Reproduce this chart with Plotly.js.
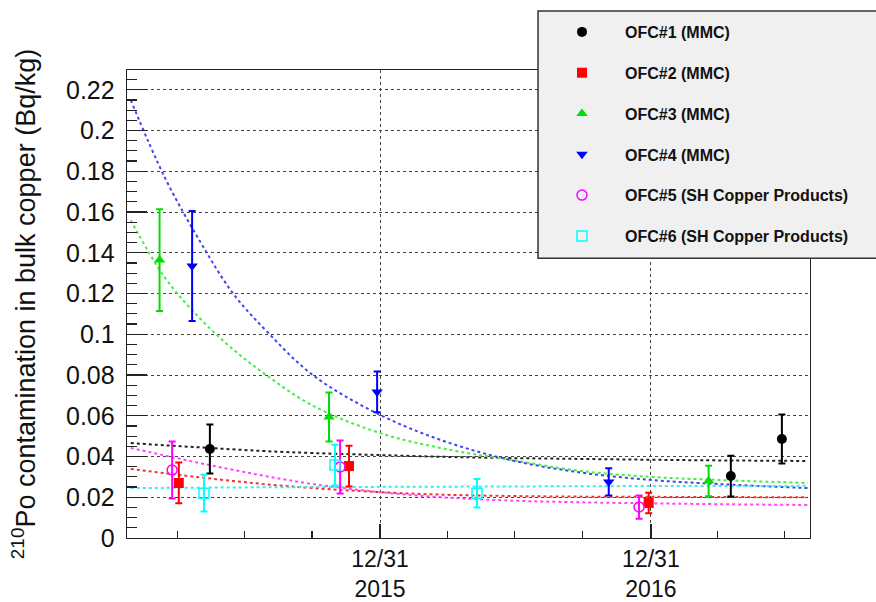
<!DOCTYPE html>
<html>
<head>
<meta charset="utf-8">
<script src="https://cdn.plot.ly/plotly-3.0.1.min.js"></script>
<style>
html,body{margin:0;padding:0;background:#fff;}
#chart{width:876px;height:602px;}
</style>
</head>
<body>
<div id="chart"></div>
<script>
// ---- data ----
const seriesNames = ['OFC#1 (MMC)','OFC#2 (MMC)','OFC#3 (MMC)','OFC#4 (MMC)','OFC#5 (SH Copper Products)','OFC#6 (SH Copper Products)'];

const ofc1Dates = ['2015-05-15','2017-04-18','2017-06-26'];
const ofc1Vals  = [0.0437, 0.0304, 0.0486];
const ofc1Errs  = [0.012, 0.010, 0.012];

const ofc2Dates = ['2015-04-03','2015-11-19','2016-12-28'];
const ofc2Vals  = [0.0270, 0.0353, 0.0172];
const ofc2Errs  = [0.010, 0.010, 0.005];

const ofc3Dates = ['2015-03-08','2015-10-23','2017-03-19'];
const ofc3Vals  = [0.1364, 0.0594, 0.0280];
const ofc3Errs  = [0.025, 0.012, 0.0075];

const ofc4Dates = ['2015-04-21','2015-12-27','2016-11-04'];
const ofc4Vals  = [0.1335, 0.0717, 0.0275];
const ofc4Errs  = [0.027, 0.010, 0.0067];

const ofc5Dates = ['2015-03-25','2015-11-07','2016-12-15'];
const ofc5Vals  = [0.0334, 0.0349, 0.0152];
const ofc5Errs  = [0.014, 0.013, 0.0057];

const ofc6Dates = ['2015-05-07','2015-10-31','2016-05-10'];
const ofc6Vals  = [0.0220, 0.0358, 0.0220];
const ofc6Errs  = [0.009, 0.010, 0.007];

// fit curves at these dates
const fitDates = ['2015-01-28','2015-03-15','2015-05-01','2015-06-15','2015-08-01','2015-10-01','2015-12-31','2016-03-31','2016-06-30','2016-09-30','2016-12-31','2017-03-31','2017-07-31'];
const fit1 = [0.0466,0.0455,0.0445,0.0435,0.0426,0.0417,0.0407,0.0398,0.0392,0.0388,0.0384,0.0381,0.0378];
const fit2 = [0.0339,0.0318,0.0298,0.0280,0.0263,0.0245,0.0225,0.0212,0.0206,0.0203,0.0202,0.0201,0.0200];
const fit3 = [0.1560,0.1279,0.1080,0.0927,0.0795,0.0650,0.0515,0.0435,0.0380,0.0328,0.0300,0.0285,0.0270];
const fit4 = [0.2150,0.1770,0.1460,0.1202,0.1010,0.0800,0.0604,0.0470,0.0378,0.0320,0.0285,0.0265,0.0245];
const fit5 = [0.0442,0.0405,0.0368,0.0335,0.0302,0.0265,0.0225,0.0198,0.0183,0.0175,0.0170,0.0166,0.0162];
const fit6 = [0.0245,0.0246,0.0247,0.0248,0.0249,0.0250,0.0251,0.0252,0.0253,0.0254,0.0255,0.0255,0.0256];

const majorTickVals = ['2015-12-31','2016-12-31'];
const majorTickText = ['12/31<br>2015','12/31<br>2016'];
const minorTickVals = ['2015-04-01','2015-07-01','2015-09-30','2016-03-31','2016-06-30','2016-09-30','2017-03-31','2017-06-30'];

// ---- styling ----
const colors = ['#000000','#ff0000','#00dd00','#0000ff','#ff00ff','#00ffff'];
const symbols = ['circle','square','triangle-up','triangle-down','circle-open','square-open'];
const dates = [ofc1Dates,ofc2Dates,ofc3Dates,ofc4Dates,ofc5Dates,ofc6Dates];
const vals = [ofc1Vals,ofc2Vals,ofc3Vals,ofc4Vals,ofc5Vals,ofc6Vals];
const errs = [ofc1Errs,ofc2Errs,ofc3Errs,ofc4Errs,ofc5Errs,ofc6Errs];
const fits = [fit1,fit2,fit3,fit4,fit5,fit6];
const fitColors = ['#222222','#ee3333','#44ee44','#4444ee','#ff44ff','#33eeee'];

const traces = [];
for (let i = 0; i < 6; i++) {
  traces.push({
    x: fitDates, y: fits[i], type: 'scatter', mode: 'lines',
    line: {color: fitColors[i], width: 2, dash: '3px,3px', shape: 'spline'},
    showlegend: false, hoverinfo: 'skip'
  });
}
for (let i = 0; i < 6; i++) {
  traces.push({
    x: dates[i], y: vals[i], type: 'scatter', mode: 'markers',
    name: seriesNames[i], legendgroup: 'g' + i,
    marker: {color: colors[i], symbol: symbols[i], size: 10,
             line: {color: colors[i], width: (i >= 4 ? 1.5 : 0)}},
    error_y: {type: 'data', array: errs[i], visible: true, color: colors[i], thickness: 2, width: 3.5}
  });
}

const layout = {
  width: 876, height: 602,
  margin: {l: 127, r: 66, t: 70, b: 64},
  paper_bgcolor: '#ffffff', plot_bgcolor: '#ffffff',
  font: {family: '"Liberation Sans", Arial, sans-serif', color: '#111'},
  showlegend: true,
  xaxis: {
    type: 'date',
    range: ['2015-01-23', '2017-08-03'],
    tickmode: 'array', tickvals: majorTickVals, ticktext: majorTickText,
    ticks: 'inside', ticklen: 14, tickwidth: 1.2, tickcolor: '#222',
    tickfont: {size: 23, color: '#111'},
    showgrid: true, gridcolor: '#444', griddash: 'dot', gridwidth: 1,
    showline: true, linecolor: '#222', linewidth: 1.3, mirror: true,
    zeroline: false,
    minor: {tickmode: 'array', tickvals: minorTickVals, ticks: 'inside', ticklen: 7, tickcolor: '#222', tickwidth: 1.2, showgrid: false}
  },
  yaxis: {
    range: [0, 0.2297],
    tick0: 0, dtick: 0.02,
    ticks: 'inside', ticklen: 20, tickwidth: 1.2, tickcolor: '#222',
    tickfont: {size: 25, color: '#111'},
    ticklabelstandoff: 6,
    showgrid: true, gridcolor: '#444', griddash: 'dot', gridwidth: 1,
    showline: true, linecolor: '#222', linewidth: 1.3, mirror: true,
    zeroline: false,
    minor: {dtick: 0.005, ticks: 'inside', ticklen: 10, tickcolor: '#222', tickwidth: 1.2, showgrid: false},
    title: {text: '<sup>210</sup>Po contamination in bulk copper (Bq/kg)', font: {size: 27, color: '#111'}, standoff: 22}
  },
  shapes: [{
    type: 'rect', xref: 'paper', yref: 'paper', layer: 'above',
    x0: 0.6018, x1: 1.2, y0: 0.598, y1: 1.126,
    fillcolor: '#f0f0f0', line: {color: '#333', width: 1.5}
  }],
  legend: {
    x: 0.6032, y: 1.1175, xanchor: 'left', yanchor: 'top',
    bgcolor: 'rgba(0,0,0,0)', borderwidth: 0,
    font: {size: 16, color: '#111', family: '"Liberation Sans", Arial, sans-serif', weight: 'bold'},
    itemwidth: 76,
    traceorder: 'grouped', tracegroupgap: 17
  }
};

Plotly.newPlot('chart', traces, layout, {displayModeBar: false, staticPlot: true});
</script>
</body>
</html>
